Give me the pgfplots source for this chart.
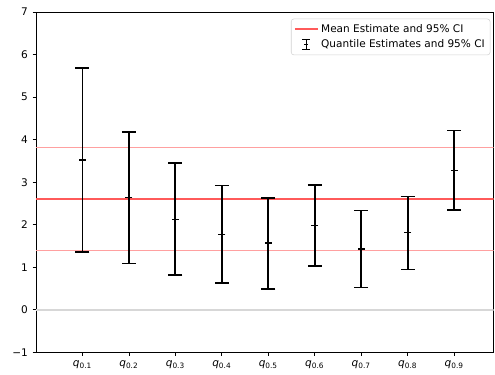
\documentclass[border=0pt]{standalone}
\usepackage{fontspec}
\setmainfont{DejaVu Sans}
\usepackage{pgfplots}
\pgfplotsset{compat=1.18}
\usepackage{pgfplotstable}
\definecolor{meanred}{RGB}{255,90,90}
\definecolor{cired}{RGB}{255,160,160}
\definecolor{zerogray}{RGB}{215,215,215}
\pgfplotstableread{
x y ep em
1 3.52 2.16 2.165
2 2.64 1.54 1.55
3 2.13 1.32 1.31
4 1.78 1.14 1.15
5 1.57 1.06 1.08
6 1.98 0.96 0.95
7 1.43 0.90 0.91
8 1.82 0.84 0.87
9 3.28 0.93 0.93
}\qdata
\begin{document}
\begin{tikzpicture}[font=\fontsize{7.9}{9.5}\selectfont]
\path[use as bounding box] (-27pt,-16.8pt) rectangle (344.5pt,264.5pt);
\begin{axis}[
  scale only axis, width=343.5pt, height=255.5pt,
  xmin=0, xmax=9.85, ymin=-1, ymax=7,
  xtick={1,...,9},
  xticklabels={{\textit{q}\textsubscript{0.1}},{\textit{q}\textsubscript{0.2}},{\textit{q}\textsubscript{0.3}},{\textit{q}\textsubscript{0.4}},{\textit{q}\textsubscript{0.5}},{\textit{q}\textsubscript{0.6}},{\textit{q}\textsubscript{0.7}},{\textit{q}\textsubscript{0.8}},{\textit{q}\textsubscript{0.9}}},
  ytick={-1,0,...,7},
  yticklabels={−1,0,1,2,3,4,5,6,7},
  tick align=outside, tick pos=left,
  major tick length=2.6pt,
  tick style={black, line width=0.6pt},
  axis line style={black, line width=0.6pt},
  legend style={at={(rel axis cs:1,1)}, anchor=north east, xshift=-2.5pt, yshift=-5pt,
    draw=gray!35, rounded corners=2pt, font=\fontsize{7.9}{9.5}\selectfont,
    cells={anchor=west}, row sep=0pt, inner sep=2pt},
  legend cell align=left,
]
\addplot[draw=zerogray, line width=1pt, forget plot] coordinates {(0,0) (9.85,0)};
\addplot[draw=meanred, line width=1.4pt] coordinates {(0,2.6) (9.85,2.6)};
\addlegendentry{Mean Estimate and 95\% CI}
\addplot[draw=cired, line width=0.9pt, forget plot] coordinates {(0,3.81) (9.85,3.81)};
\addplot[draw=cired, line width=0.9pt, forget plot] coordinates {(0,1.40) (9.85,1.40)};
\addplot[black, only marks, mark=-, mark size=2.6pt, mark options={line width=0.9pt},
  legend image code/.code={
    \draw[black, line width=1pt] (0.3cm,-0.13cm) -- (0.3cm,0.13cm);
    \draw[black, line width=1pt] (0.2cm,-0.13cm) -- (0.4cm,-0.13cm);
    \draw[black, line width=1pt] (0.2cm,0.13cm) -- (0.4cm,0.13cm);
    \draw[black, line width=0.9pt] (0.25cm,0cm) -- (0.35cm,0cm);
  },
  error bars/.cd, y dir=both, y explicit,
  error mark=-,
  error bar style={line width=1.4pt},
  error mark options={black, rotate=90, mark size=5.25pt, line width=1.1pt}]
  table[x=x, y=y, y error plus=ep, y error minus=em] {\qdata};
\addlegendentry{Quantile Estimates and 95\% CI}
\end{axis}
\end{tikzpicture}
\end{document}
